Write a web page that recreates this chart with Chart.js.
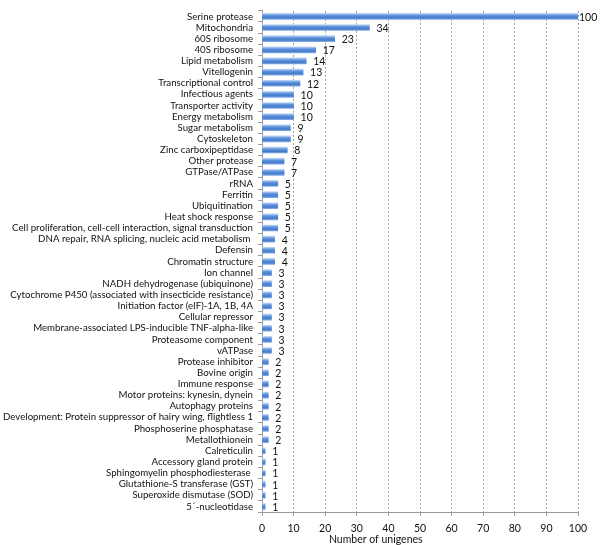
<!DOCTYPE html>
<html>
<head>
<meta charset="utf-8">
<script src="https://cdn.jsdelivr.net/npm/chart.js@4/dist/chart.umd.min.js"></script>
<style>
  html, body { margin: 0; padding: 0; background: #fff; }
  #wrap { width: 600px; height: 545px; position: relative; }
</style>
</head>
<body>
<div id="wrap"><canvas id="chart"></canvas></div>
<script>
// categories, top to bottom
const categories = [
    'Serine protease', 'Mitochondria', '60S ribosome', '40S ribosome', 'Lipid metabolism',
    'Vitellogenin', 'Transcriptional control', 'Infectious agents', 'Transporter activity',
    'Energy metabolism', 'Sugar metabolism', 'Cytoskeleton', 'Zinc carboxipeptidase',
    'Other protease', 'GTPase/ATPase', 'rRNA', 'Ferritin', 'Ubiquitination',
    'Heat shock response', 'Cell proliferation, cell-cell interaction, signal transduction',
    'DNA repair, RNA splicing, nucleic acid metabolism ', 'Defensin', 'Chromatin structure',
    'Ion channel', 'NADH dehydrogenase (ubiquinone)',
    'Cytochrome P450 (associated with insecticide resistance)',
    'Initiation factor (eIF)-1A, 1B, 4A', 'Cellular repressor',
    'Membrane-associated LPS-inducible TNF-alpha-like', 'Proteasome component', 'vATPase',
    'Protease inhibitor', 'Bovine origin', 'Immune response', 'Motor proteins: kynesin, dynein',
    'Autophagy proteins', 'Development: Protein suppressor of hairy wing, flightless 1',
    'Phosphoserine phosphatase', 'Metallothionein', 'Calreticulin', 'Accessory gland protein',
    'Sphingomyelin phosphodiesterase ', 'Glutathione-S transferase (GST)',
    'Superoxide dismutase (SOD)', '5\u00b4-nucleotidase'
];
const unigenes = [
    100, 34, 23, 17, 14, 13, 12, 10, 10, 10, 9, 9, 8, 7, 7, 5, 5, 5, 5, 5,
    4, 4, 4, 3, 3, 3, 3, 3, 3, 3, 3, 2, 2, 2, 2, 2, 2, 2, 2, 1, 1, 1, 1, 1, 1
];
const xMin = 0;
const xMax = 100;
const xStep = 10;
const xTitle = 'Number of unigenes';

const FONT = 'Lato';
const FSIZE = 9.7;
const TEXT = '#111';
const LINE = '#9c9c9c';
const BAR_H = 6;

// excel-like shaded bar: light top edge, blue body (one gradient per bar)
function barFill(c) {
    const chart = c.chart;
    const y = chart.scales.y;
    if (!y || !chart.chartArea || c.dataIndex === undefined) return '#5a8dd8';
    const cy = y.getPixelForValue(c.dataIndex);
    const top = cy - BAR_H / 2;
    const g = chart.ctx.createLinearGradient(0, top, 0, top + BAR_H);
    g.addColorStop(0, '#c0d6f5');
    g.addColorStop(0.35, '#5f92dc');
    g.addColorStop(0.75, '#457bcb');
    g.addColorStop(1, '#80a9e4');
    return g;
}

const valueLabels = {
    id: 'valueLabels',
    afterDatasetsDraw(chart) {
        const ctx = chart.ctx;
        const meta = chart.getDatasetMeta(0);
        ctx.save();
        ctx.font = '10.5px ' + FONT;
        ctx.fillStyle = TEXT;
        ctx.textBaseline = 'middle';
        meta.data.forEach((bar, i) => {
            const txt = String(unigenes[i]);
            const w = ctx.measureText(txt).width;
            let x = bar.x + 7;
            if (x + w > chart.width - 2) x = bar.x + 1;
            ctx.fillText(txt, x, bar.y + 1);
        });
        ctx.restore();
    }
};

const axisTitle = {
    id: 'axisTitle',
    afterDraw(chart) {
        const ctx = chart.ctx;
        const x = chart.scales.x;
        ctx.save();
        ctx.font = '10.5px ' + FONT;
        ctx.fillStyle = TEXT;
        ctx.textAlign = 'center';
        ctx.textBaseline = 'middle';
        ctx.fillText(xTitle, x.getPixelForValue(36), 540);
        ctx.restore();
    }
};

new Chart(document.getElementById('chart').getContext('2d'), {
    type: 'bar',
    data: {
        labels: categories,
        datasets: [{
            data: unigenes,
            backgroundColor: barFill,
            borderWidth: 0,
            barThickness: BAR_H
        }]
    },
    options: {
        indexAxis: 'y',
        responsive: true,
        maintainAspectRatio: false,
        animation: false,
        layout: { padding: { top: 5, right: 22, left: 0, bottom: 0 } },
        plugins: {
            legend: { display: false },
            tooltip: { enabled: false }
        },
        scales: {
            x: {
                min: xMin,
                max: xMax,
                ticks: {
                    stepSize: xStep,
                    font: { family: FONT, size: 10.5 },
                    color: TEXT,
                    padding: 6
                },
                grid: {
                    color: LINE,
                    lineWidth: 1,
                    tickColor: LINE,
                    tickLength: 4,
                    tickBorderDash: []
                },
                border: { display: true, color: LINE, dash: [2, 2] },
                afterFit(scale) { scale.height = 33; }
            },
            y: {
                offset: true,
                ticks: {
                    font: { family: FONT, size: FSIZE },
                    color: TEXT,
                    padding: 5,
                    autoSkip: false
                },
                grid: {
                    drawOnChartArea: false,
                    offset: true,
                    tickLength: 4,
                    tickColor: LINE
                },
                border: { display: true, color: LINE },
                afterFit(scale) { scale.width = 262; }
            }
        }
    },
    plugins: [valueLabels, axisTitle]
});
</script>
</body>
</html>
